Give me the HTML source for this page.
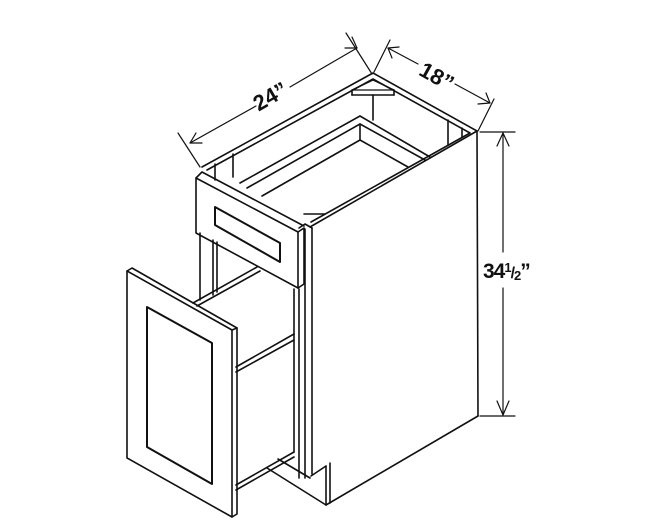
<!DOCTYPE html>
<html><head><style>body{margin:0;background:#fff}svg{display:block}</style></head>
<body>
<svg width="654" height="532" viewBox="0 0 654 532" xmlns="http://www.w3.org/2000/svg" fill="none" stroke="#111" stroke-width="1.6" stroke-linejoin="round" stroke-linecap="round">
<!-- top frame outer -->
<polyline points="202,167 373,73 477,131 310,227"/>
<polyline points="207,170 373,79 470,133 311,222"/>
<!-- back corner bracket -->
<polygon points="352,90 394,90 373,80" stroke-width="1.3"/>
<line x1="352" y1="90" x2="352" y2="95"/><line x1="394" y1="90" x2="394" y2="95"/>
<line x1="352" y1="95" x2="394" y2="95"/>
<line x1="373" y1="95" x2="373" y2="120"/>
<!-- back inside verticals -->
<line x1="448" y1="120" x2="448" y2="145"/><line x1="462" y1="128" x2="462" y2="137"/>
<line x1="215" y1="164" x2="215" y2="180"/><line x1="233" y1="154" x2="233" y2="177"/>
<!-- inner drawer box top -->
<polyline points="240,183 360,116 430,157"/>
<polyline points="247,188 360,124 425,160"/>
<line x1="360" y1="124" x2="360" y2="140"/>
<polyline points="262,196 360,140 408,167"/>
<line x1="304" y1="214" x2="325" y2="214"/>
<!-- right side -->
<line x1="477" y1="131" x2="478" y2="416"/>
<line x1="478" y1="416" x2="326" y2="505"/>
<line x1="326" y1="505" x2="326" y2="466"/>
<line x1="330" y1="503" x2="330" y2="463"/>
<polyline points="326,466 311,476"/>
<line x1="267" y1="468" x2="326" y2="505"/>
<line x1="278" y1="459" x2="310" y2="478"/>
<!-- face frame right stile -->
<polyline points="299,228 305,224 312,228"/>
<line x1="305" y1="229" x2="305" y2="478"/>
<line x1="312" y1="228" x2="312" y2="474"/>
<line x1="299" y1="289" x2="299" y2="478"/>
<line x1="294" y1="289" x2="294" y2="452"/>
<!-- left stile -->
<line x1="200" y1="233" x2="200" y2="300"/>
<line x1="213" y1="240" x2="213" y2="295"/>
<line x1="217" y1="242" x2="217" y2="292"/>
<!-- drawer front -->
<polyline points="196,178 202,172 304,226"/>
<polygon points="196,178 298,232 298,288 196,233"/>
<polyline points="298,232 304,228 304,284 298,288"/>
<polygon points="215,207 280,243 280,262 215,225" stroke-width="2"/>
<!-- drawer box (pulled out) -->
<line x1="193" y1="303" x2="257" y2="267"/>
<line x1="197" y1="306" x2="260" y2="271"/>
<line x1="236" y1="367" x2="294" y2="334"/>
<line x1="236" y1="372" x2="294" y2="340"/>
<line x1="236" y1="485" x2="294" y2="452"/>
<line x1="236" y1="490" x2="294" y2="457"/>
<!-- door -->
<polygon points="127,271 232,330 232,517 127,458" fill="#fff"/>
<polyline points="127,271 132,268 237,328 237,514 232,517"/>
<line x1="232" y1="330" x2="237" y2="328"/>
<polygon points="147,307 212,343 212,484 147,447" stroke-width="2"/>
<!-- dimension 24 -->
<line x1="178" y1="133" x2="200" y2="167" stroke-width="1.2"/>
<line x1="346" y1="33" x2="372" y2="74" stroke-width="1.2"/>
<line x1="190" y1="143" x2="256" y2="106" stroke-width="1.2"/>
<line x1="290" y1="87" x2="357" y2="48" stroke-width="1.2"/>
<polyline points="196,133 190,143 202,143" stroke-width="1.2"/>
<polyline points="345,48 357,48 352,37" stroke-width="1.2"/>
<!-- dimension 18 -->
<line x1="374" y1="72" x2="390" y2="40" stroke-width="1.2"/>
<line x1="478" y1="131" x2="494" y2="99" stroke-width="1.2"/>
<line x1="388" y1="48" x2="418" y2="64" stroke-width="1.2"/>
<line x1="455" y1="84" x2="490" y2="103" stroke-width="1.2"/>
<polyline points="392,58 388,48 399,47" stroke-width="1.2"/>
<polyline points="478,104 490,103 486,93" stroke-width="1.2"/>
<!-- dimension 34.5 -->
<line x1="480" y1="132" x2="515" y2="132" stroke-width="1.2"/>
<line x1="480" y1="416" x2="515" y2="416" stroke-width="1.2"/>
<line x1="503" y1="133" x2="503" y2="252" stroke-width="1.2"/>
<line x1="503" y1="288" x2="503" y2="415" stroke-width="1.2"/>
<polyline points="497,146 503,133 509,146" stroke-width="1.2"/>
<polyline points="497,401 503,415 509,401" stroke-width="1.2"/>
<g fill="#111" stroke="none" font-family="Liberation Sans, sans-serif" font-weight="bold">
<text x="270" y="104" font-size="22" text-anchor="middle" transform="rotate(-30 270 96)">24”</text>
<text x="437" y="84" font-size="22" text-anchor="middle" transform="rotate(29 437 76)">18”</text>
<text x="483" y="278" font-size="21" letter-spacing="-1">34<tspan font-size="13" dy="-6">1</tspan><tspan font-size="16" dy="6">/</tspan><tspan font-size="13" dy="2">2</tspan><tspan dy="-2">”</tspan></text>
</g>
</svg>
</body></html>
